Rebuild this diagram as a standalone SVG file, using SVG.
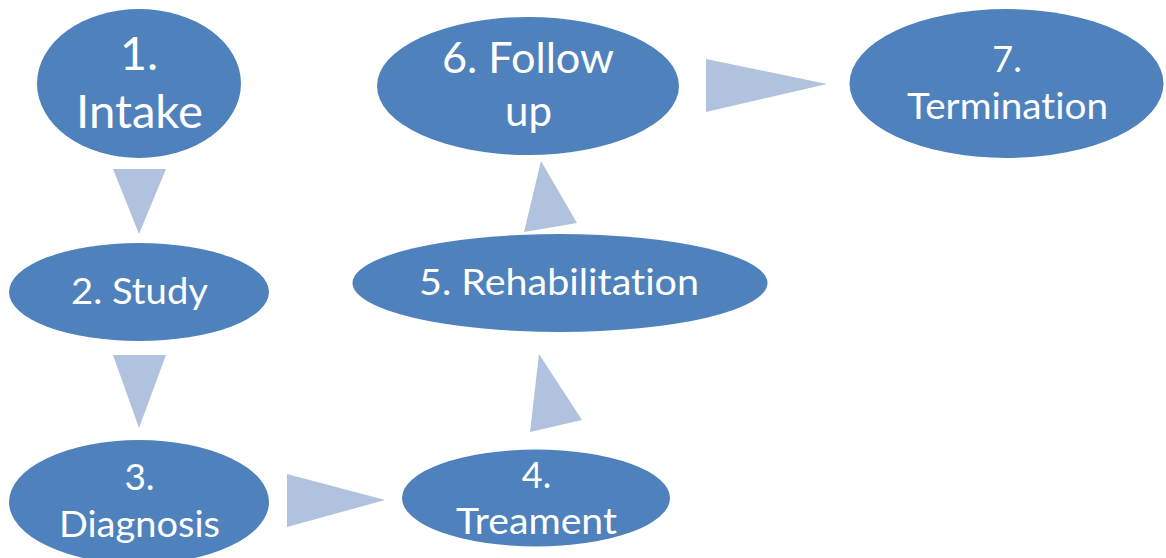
<svg xmlns="http://www.w3.org/2000/svg" width="1166" height="558" viewBox="0 0 1166 558">
<style>
.node{fill:#4F81BD}
.arr{fill:#B1C2DE}
text{fill:#FFFFFF;font-family:Lato,"Open Sans","Liberation Sans",sans-serif;text-anchor:middle;font-variant-ligatures:none;font-feature-settings:"liga" 0,"dlig" 0}
</style>
<rect width="1166" height="558" fill="#FFFFFF"/>
<g id="connectors">
<polygon class="arr" points="113,169 166,169 139,234"/>
<polygon class="arr" points="113,355 166,355 139,428"/>
<polygon class="arr" points="287,474 287,527 385,500"/>
<polygon class="arr" points="539,354 582,420 530,432"/>
<polygon class="arr" points="541,161 577,223 524,232"/>
<polygon class="arr" points="706,59 706,112 827,84"/>
</g>
<g id="n1">
<ellipse class="node" cx="139" cy="83.5" rx="102" ry="74.5"/>
<text x="139" y="70" font-size="47">1.</text>
<text x="139.5" y="128" font-size="47" textLength="127" lengthAdjust="spacingAndGlyphs">Intake</text>
</g>
<g id="n2">
<ellipse class="node" cx="139" cy="292" rx="130" ry="49"/>
<text x="139.5" y="304" font-size="37" textLength="137" lengthAdjust="spacingAndGlyphs">2. Study</text>
</g>
<g id="n3">
<ellipse class="node" cx="139" cy="502" rx="130" ry="62"/>
<text x="139.5" y="490" font-size="37">3.</text>
<text x="139.5" y="537" font-size="37" textLength="161" lengthAdjust="spacingAndGlyphs">Diagnosis</text>
</g>
<g id="n4">
<ellipse class="node" cx="536" cy="498" rx="134" ry="48.5"/>
<text x="536.5" y="488" font-size="36">4.</text>
<text x="536.5" y="534" font-size="36" textLength="161" lengthAdjust="spacingAndGlyphs">Treament</text>
</g>
<g id="n5">
<ellipse class="node" cx="560" cy="283" rx="207.5" ry="49"/>
<text x="559" y="295" font-size="37" textLength="280" lengthAdjust="spacingAndGlyphs">5. Rehabilitation</text>
</g>
<g id="n6">
<ellipse class="node" cx="528" cy="86" rx="151" ry="69"/>
<text x="528" y="73" font-size="42" textLength="172" lengthAdjust="spacingAndGlyphs">6. Follow</text>
<text x="528.5" y="126" font-size="42">up</text>
</g>
<g id="n7">
<ellipse class="node" cx="1006.5" cy="83.5" rx="157" ry="74.5"/>
<text x="1007" y="72" font-size="36">7.</text>
<text x="1007.5" y="119" font-size="36" textLength="201" lengthAdjust="spacingAndGlyphs">Termination</text>
</g>
</svg>
